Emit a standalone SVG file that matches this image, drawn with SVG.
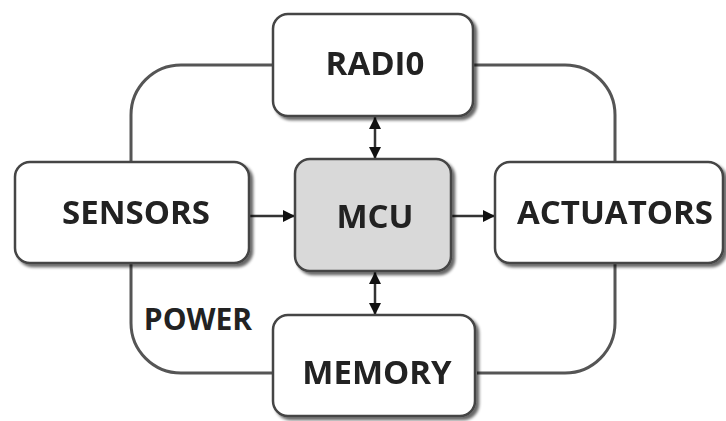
<svg xmlns="http://www.w3.org/2000/svg" width="726" height="421" viewBox="0 0 726 421">
<defs>
<style>
.box{fill:#fff;stroke:#444;stroke-width:2.5}
.mcu{fill:#d9d9d9;stroke:#444;stroke-width:2.5}
.lbl{font-family:"Open Sans",sans-serif;font-weight:bold;font-size:33px;fill:#222;text-anchor:middle;dominant-baseline:central}
.ln{fill:none;stroke:#555;stroke-width:3}
.ar{fill:none;stroke:#333;stroke-width:2.5}
</style>
<marker id="ah" viewBox="0 0 10 10" refX="10" refY="5" markerWidth="13" markerHeight="12" markerUnits="userSpaceOnUse" orient="auto-start-reverse"><path d="M0,0 L10,5 L0,10 z" fill="#111"/></marker>
<filter id="ds" x="-10%" y="-10%" width="130%" height="130%"><feGaussianBlur in="SourceAlpha" stdDeviation="1.5"/><feOffset dx="3" dy="3"/><feComponentTransfer><feFuncA type="linear" slope="0.6"/></feComponentTransfer><feMerge><feMergeNode/><feMergeNode in="SourceGraphic"/></feMerge></filter>
</defs>
<g id="connectors">
<path class="ln" d="M273,65 H181 A50,50 0 0 0 131,115 V162"/>
<path class="ln" d="M131,263 V323 A50,50 0 0 0 181,373 H273"/>
<path class="ln" d="M473,65 H565 A50,50 0 0 1 615,115 V162"/>
<path class="ln" d="M615,263 V323 A50,50 0 0 1 565,373 H477"/>
<line class="ar" x1="250" y1="216" x2="295" y2="216" marker-end="url(#ah)"/>
<line class="ar" x1="452" y1="216" x2="495" y2="216" marker-end="url(#ah)"/>
<line class="ar" x1="375" y1="117" x2="375" y2="159" marker-start="url(#ah)" marker-end="url(#ah)"/>
<line class="ar" x1="375" y1="272" x2="375" y2="315" marker-start="url(#ah)" marker-end="url(#ah)"/>
<text class="lbl" x="198" y="318" style="font-size:30px">POWER</text>
</g>
<g id="radio" filter="url(#ds)"><rect class="box" x="273" y="14" width="200" height="102" rx="15"/><text class="lbl" x="375" y="62">RADI0</text></g>
<g id="sensors" filter="url(#ds)"><rect class="box" x="15" y="162" width="234" height="101" rx="15"/><text class="lbl" x="136" y="211">SENSORS</text></g>
<g id="mcu" filter="url(#ds)"><rect class="mcu" x="295" y="159" width="156" height="112" rx="15"/><text class="lbl" x="375" y="215">MCU</text></g>
<g id="actuators" filter="url(#ds)"><rect class="box" x="495" y="162" width="228" height="101" rx="15"/><text class="lbl" x="615" y="211">ACTUATORS</text></g>
<g id="memory" filter="url(#ds)"><rect class="box" x="273" y="315" width="202" height="101" rx="15"/><text class="lbl" x="377" y="371">MEMORY</text></g>
</svg>
